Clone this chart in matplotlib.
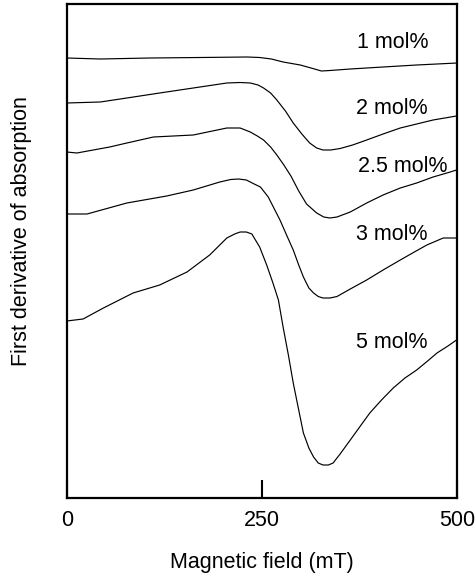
import matplotlib
matplotlib.use("Agg")
import matplotlib.pyplot as plt

plt.rcParams['font.family'] = ['Liberation Sans', 'DejaVu Sans']

# Magnetic field (mT) and first-derivative signal (arbitrary units, offset per series)
x_1 = [0, 43, 107, 171, 231, 247, 262, 277, 299, 315, 326, 337, 363, 405, 448, 500]
y_1 = [440, 439, 440, 440.5, 441, 440.5, 439, 436, 433, 429.5, 427, 427.5, 429, 431, 433, 435]

x_2 = [0, 43, 77, 119, 162, 205, 222, 235, 245, 252, 261, 269, 280, 290, 301, 311, 320, 328, 338, 350, 366, 384, 405, 427, 448, 469, 499]
y_2 = [395, 396, 400, 405, 410, 415, 415.5, 415, 413, 410, 405, 398, 387, 375, 364, 355, 350, 348, 348, 349.5, 353, 358, 364, 370, 374, 378, 382]

x_3 = [0, 13, 55, 77, 111, 162, 205, 222, 235, 244, 252, 261, 269, 278, 287, 297, 307, 320, 329, 337, 346, 363, 384, 405, 427, 448, 469, 491, 499]
y_3 = [346, 345, 351, 355, 361, 363, 370, 370, 366, 362, 358, 351, 343, 333, 322, 307, 294, 285, 281, 280, 281, 286, 295, 303, 310, 315, 321, 326, 328]

x_4 = [0, 26, 77, 128, 162, 196, 210, 220, 230, 240, 248, 258, 273, 282, 290, 297, 303, 310, 316, 322, 328, 337, 346, 363, 384, 405, 427, 445, 461, 482, 499]
y_4 = [284, 284, 295, 302, 308, 316, 318.5, 319, 318, 314, 311, 301, 278, 262, 248, 233, 221, 210, 205, 201.5, 200, 200, 201.5, 209, 218, 228, 238, 246, 253, 260, 260]

x_5 = [0, 21, 47, 85, 119, 154, 183, 205, 215, 222, 230, 237, 247, 256, 264, 271, 277, 284, 290, 297, 303, 310, 316, 322, 328, 335, 341, 350, 363, 375, 388, 403, 418, 433, 448, 462, 474, 488, 499]
y_5 = [177, 179, 190, 205, 213, 226, 243, 260, 264, 266, 266, 264, 251, 233, 215, 198, 171, 142, 115, 88, 65, 50, 41, 35, 33, 33, 35, 44, 58, 71, 85, 98, 110, 120, 128, 137, 145, 152, 158]

series_labels = ['1 mol%', '2 mol%', '2.5 mol%', '3 mol%', '5 mol%']
label_x = [418, 416, 430, 416, 416]
label_y = [456, 390, 331, 263, 155]

xticks = [0, 250, 500]
xtick_labels = ['0', '250', '500']

fig = plt.figure(figsize=(4.76, 5.75), dpi=100)
ax = fig.add_axes([66.7 / 476, 1 - 498 / 575, (457.3 - 66.7) / 476, (498 - 4) / 575])

for xs, ys in [(x_1, y_1), (x_2, y_2), (x_3, y_3), (x_4, y_4), (x_5, y_5)]:
    ax.plot(xs, ys, color='black', lw=0.85, solid_joinstyle='round')

for lab, lx, ly in zip(series_labels, label_x, label_y):
    ax.text(lx, ly, lab, ha='center', va='center', fontsize=15.5)

ax.set_xlim(0, 500)
ax.set_ylim(0, 494)
ax.set_xticks(xticks)
ax.set_xticklabels(xtick_labels, fontsize=15.5)
ax.set_yticks([])
ax.tick_params(axis='x', direction='in', length=13, width=1.5, pad=9)
for sp in ax.spines.values():
    sp.set_linewidth(1.6)

ax.set_xlabel('Magnetic field (mT)', fontsize=15.5, labelpad=15)
fig.text(22 / 476, 1 - 231.5 / 575, 'First derivative of absorption', rotation=90,
         ha='center', va='center', fontsize=15.5)

fig.savefig('out.png', dpi=100)
